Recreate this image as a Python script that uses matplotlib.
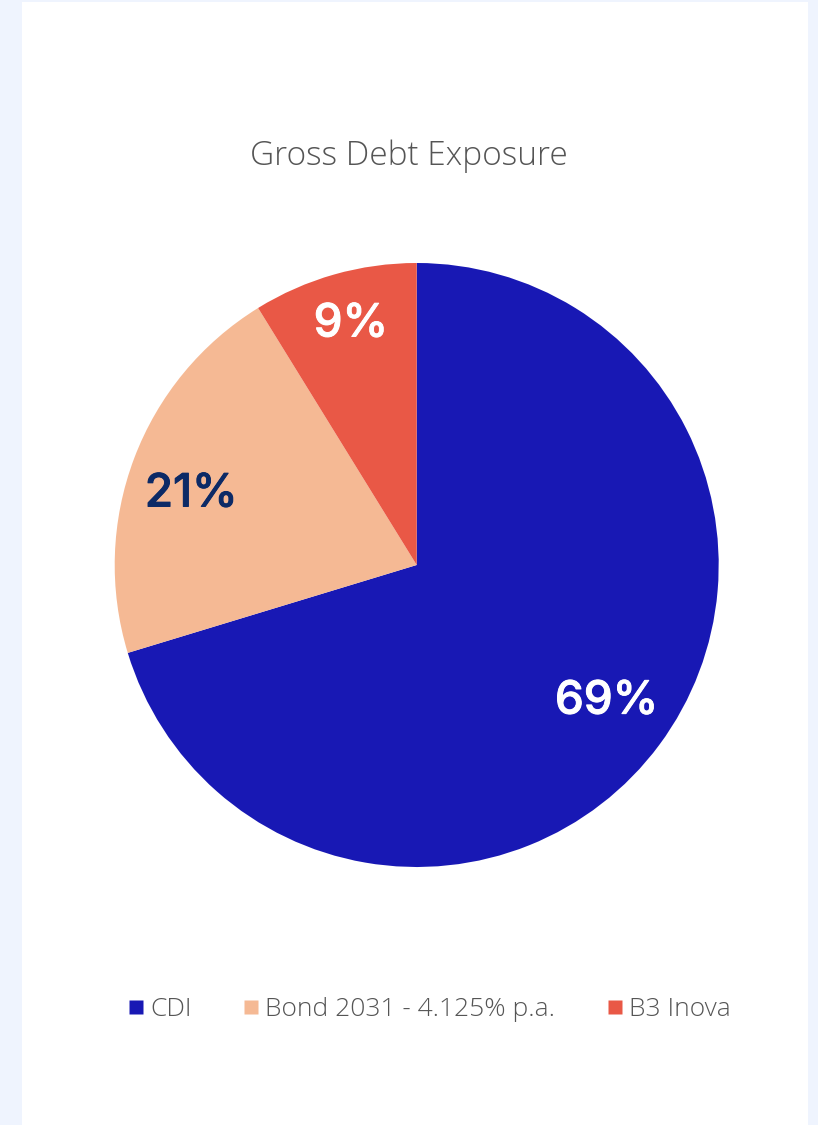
import matplotlib
matplotlib.use("Agg")
import matplotlib.pyplot as plt
import matplotlib.patheffects as pe
import numpy as np
from matplotlib.patches import Rectangle
from matplotlib.lines import Line2D

categories = ["CDI", "Bond 2031 - 4.125% p.a.", "B3 Inova"]
shares = [70.3, 20.9, 8.8]
labels = ["69%", "21%", "9%"]
colors = ["#1818b4", "#f5b994", "#e95846"]
label_colors = ["#ffffff", "#0c2a66", "#ffffff"]
label_radius = [0.766, 0.787, 0.84]
label_angle_shift = [-1.7, -2.3, 0.8]
title = "Gross Debt Exposure"

W, H = 818, 1125
plt.rcParams['font.family'] = ['Open Sans', 'DejaVu Sans']
fig = plt.figure(figsize=(W / 100, H / 100), dpi=100)
fig.patch.set_facecolor("#eff4fe")
fig.patches.append(Rectangle((22 / W, 0), (808 - 22) / W, 1123 / H,
                             transform=fig.transFigure, facecolor="white",
                             edgecolor="none", zorder=-5))

cx, cy, r = 416.7, 565, 302
ax = fig.add_axes([(cx - r) / W, (H - cy - r) / H, 2 * r / W, 2 * r / H])
ax.set_zorder(2)
ax.pie(shares, colors=colors, startangle=90, counterclock=False,
       radius=1, center=(0, 0), wedgeprops=dict(linewidth=0))
ax.set_xlim(-1, 1)
ax.set_ylim(-1, 1)
ax.set_aspect("auto")
ax.axis("off")

total = sum(shares)
cum = 0
for s, lab, lc, lr, da in zip(shares, labels, label_colors, label_radius, label_angle_shift):
    mid = (cum + s / 2) / total * 2 * np.pi + np.deg2rad(da)
    cum += s
    x = lr * np.sin(mid)
    y = lr * np.cos(mid)
    ax.text(x, y, lab, ha="center", va="center_baseline", fontsize=33,
            fontweight="medium", color=lc, family=["Inter", "DejaVu Sans"],
            path_effects=[pe.withStroke(linewidth=0.7, foreground=lc)])

fig.text(408.5 / W, 1 - 156 / H, title, ha="center", va="center",
         fontsize=24, color="#555555", fontweight="light")

handles = [Line2D([], [], marker="s", linestyle="none", markersize=10,
                  markerfacecolor=c, markeredgecolor="none") for c in colors]
fig.legend(handles, categories, loc="center", bbox_to_anchor=(430 / W, 1 - 1010 / H),
           ncol=3, frameon=False, labelcolor="#555555",
           prop=dict(size=19, weight="light"),
           handlelength=0.5, handletextpad=0.3, columnspacing=2.0)

fig.savefig("out.png", dpi=100, facecolor=fig.get_facecolor())
